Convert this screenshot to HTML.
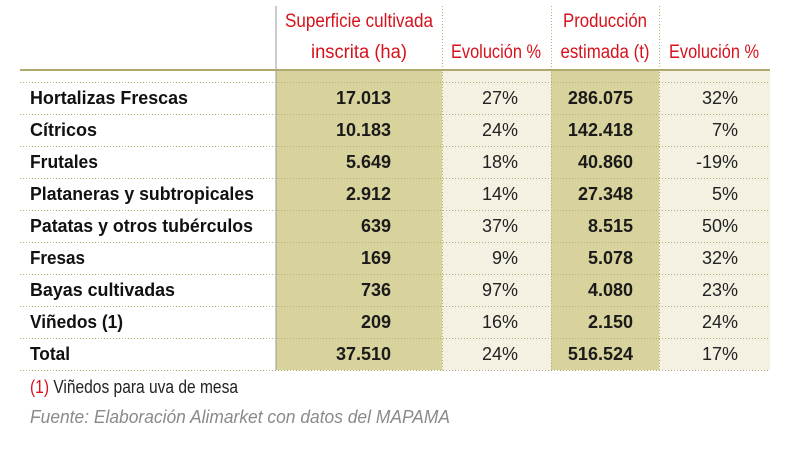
<!DOCTYPE html>
<html><head><meta charset="utf-8"><style>
html,body{margin:0;padding:0;background:#fff;width:794px;height:450px;overflow:hidden}
svg{display:block}
text{font-family:"Liberation Sans",sans-serif}
.h{fill:#d7111b;font-size:19px}
.l{font-weight:bold;font-size:18px;fill:#111}
.n{font-weight:bold;font-size:18px;fill:#1a1a1a}
.p{font-size:18px;fill:#222}
</style></head><body>
<svg width="794" height="450" viewBox="0 0 794 450">
<rect x="276" y="70" width="166" height="300" fill="#d8d29c"/>
<rect x="442" y="70" width="109" height="300" fill="#f4f1e2"/>
<rect x="551" y="70" width="108" height="300" fill="#d8d29c"/>
<rect x="659" y="70" width="111" height="300" fill="#f4f1e2"/>
<line x1="276" y1="6" x2="276" y2="370" stroke="#999" stroke-width="1"/>
<g stroke="#b5ad72" stroke-width="1" stroke-dasharray="1,2">
<line x1="442.5" y1="6" x2="442.5" y2="370"/>
<line x1="551.5" y1="6" x2="551.5" y2="370"/>
<line x1="659.5" y1="6" x2="659.5" y2="370"/>
<line x1="20" y1="82.5" x2="770" y2="82.5"/>
<line x1="20" y1="114.5" x2="770" y2="114.5"/>
<line x1="20" y1="146.5" x2="770" y2="146.5"/>
<line x1="20" y1="178.5" x2="770" y2="178.5"/>
<line x1="20" y1="210.5" x2="770" y2="210.5"/>
<line x1="20" y1="242.5" x2="770" y2="242.5"/>
<line x1="20" y1="274.5" x2="770" y2="274.5"/>
<line x1="20" y1="306.5" x2="770" y2="306.5"/>
<line x1="20" y1="338.5" x2="770" y2="338.5"/>
<line x1="20" y1="370.5" x2="770" y2="370.5"/>
</g>
<line x1="20" y1="70" x2="770" y2="70" stroke="#b0a86c" stroke-width="2"/>
<g class="h" text-anchor="middle">
<text x="359" y="27" textLength="148" lengthAdjust="spacingAndGlyphs">Superficie cultivada</text>
<text x="359" y="58" textLength="96" lengthAdjust="spacingAndGlyphs">inscrita (ha)</text>
<text x="496" y="58" textLength="90" lengthAdjust="spacingAndGlyphs">Evolución %</text>
<text x="605" y="27" textLength="84" lengthAdjust="spacingAndGlyphs">Producción</text>
<text x="605" y="58" textLength="89" lengthAdjust="spacingAndGlyphs">estimada (t)</text>
<text x="714" y="58" textLength="90" lengthAdjust="spacingAndGlyphs">Evolución %</text>
</g>
<g class="l">
<text x="30" y="104" textLength="158" lengthAdjust="spacingAndGlyphs">Hortalizas Frescas</text>
<text x="30" y="136" textLength="67" lengthAdjust="spacingAndGlyphs">Cítricos</text>
<text x="30" y="168" textLength="68" lengthAdjust="spacingAndGlyphs">Frutales</text>
<text x="30" y="200" textLength="224" lengthAdjust="spacingAndGlyphs">Plataneras y subtropicales</text>
<text x="30" y="232" textLength="223" lengthAdjust="spacingAndGlyphs">Patatas y otros tubérculos</text>
<text x="30" y="264" textLength="55" lengthAdjust="spacingAndGlyphs">Fresas</text>
<text x="30" y="296" textLength="145" lengthAdjust="spacingAndGlyphs">Bayas cultivadas</text>
<text x="30" y="328" textLength="93" lengthAdjust="spacingAndGlyphs">Viñedos (1)</text>
<text x="30" y="360" textLength="40" lengthAdjust="spacingAndGlyphs">Total</text>
</g>
<g class="n" text-anchor="end">
<text x="391" y="104">17.013</text><text x="391" y="136">10.183</text><text x="391" y="168">5.649</text>
<text x="391" y="200">2.912</text><text x="391" y="232">639</text><text x="391" y="264">169</text>
<text x="391" y="296">736</text><text x="391" y="328">209</text><text x="391" y="360">37.510</text>
<text x="633" y="104">286.075</text><text x="633" y="136">142.418</text><text x="633" y="168">40.860</text>
<text x="633" y="200">27.348</text><text x="633" y="232">8.515</text><text x="633" y="264">5.078</text>
<text x="633" y="296">4.080</text><text x="633" y="328">2.150</text><text x="633" y="360">516.524</text>
</g>
<g class="p" text-anchor="end">
<text x="518" y="104">27%</text><text x="518" y="136">24%</text><text x="518" y="168">18%</text>
<text x="518" y="200">14%</text><text x="518" y="232">37%</text><text x="518" y="264">9%</text>
<text x="518" y="296">97%</text><text x="518" y="328">16%</text><text x="518" y="360">24%</text>
<text x="738" y="104">32%</text><text x="738" y="136">7%</text><text x="738" y="168">-19%</text>
<text x="738" y="200">5%</text><text x="738" y="232">50%</text><text x="738" y="264">32%</text>
<text x="738" y="296">23%</text><text x="738" y="328">24%</text><text x="738" y="360">17%</text>
</g>
<text x="30" y="393" font-size="18" textLength="208" lengthAdjust="spacingAndGlyphs"><tspan fill="#d7111b">(1)</tspan><tspan fill="#222"> Viñedos para uva de mesa</tspan></text>
<text x="30" y="423" font-size="18" font-style="italic" fill="#8a8a8a" textLength="420" lengthAdjust="spacingAndGlyphs">Fuente: Elaboración Alimarket con datos del MAPAMA</text>
</svg>
</body></html>
